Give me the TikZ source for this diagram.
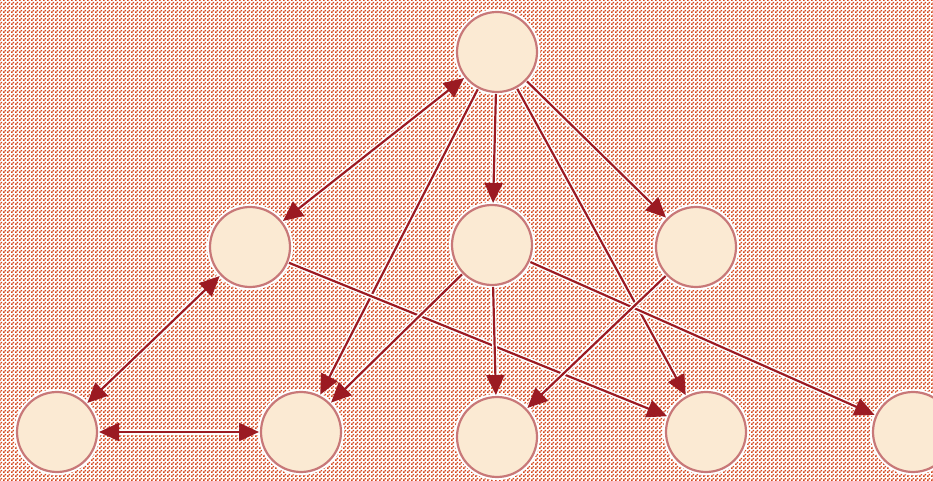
\documentclass[tikz,border=0pt]{standalone}
\usepackage{tikz}
\usetikzlibrary{arrows.meta,patterns.meta}

\definecolor{bgorange}{RGB}{212,70,28}
\definecolor{nodefill}{RGB}{251,234,211}
\definecolor{nodeline}{RGB}{200,120,120}
\definecolor{linkred}{RGB}{155,26,34}

\pgfdeclarepattern{
  name=checks, type=uncolored,
  bottom left={\pgfpointorigin}, top right={\pgfpoint{4bp}{4bp}},
  tile size={\pgfpoint{4bp}{4bp}},
  code={
    \pgfpathrectangle{\pgfpointorigin}{\pgfpoint{2bp}{2bp}}
    \pgfpathrectangle{\pgfpoint{2bp}{2bp}}{\pgfpoint{2bp}{2bp}}
    \pgfusepath{fill}
  }
}

\begin{document}
\begin{tikzpicture}[x=1bp,y=-1bp,->,>={Triangle[length=20bp,width=18bp]},
  main node/.style={circle,fill=nodefill,draw=nodeline,line width=2.2bp,
    minimum size=80bp,inner sep=0pt,outer sep=2bp,
    preaction={draw=white,line width=6bp}},
  every edge/.append style={draw=linkred,line width=2.2bp,
    preaction={draw=white,line width=5bp,-}}]

 % background
 \fill[white] (0,0) rectangle (933,481);
 \fill[pattern=checks,pattern color=bgorange] (0,0) rectangle (933,481);
 \useasboundingbox (0,0) rectangle (933,481);

 \node[main node] (1) at (497,52) {};
 \node[main node] (2) at (250,247) {};
 \node[main node] (3) at (492,245) {};
 \node[main node] (4) at (696,247) {};
 \node[main node] (5) at (57,432) {};
 \node[main node] (6) at (301,432) {};
 \node[main node] (7) at (497,437) {};
 \node[main node] (8) at (706,432) {};
 \node[main node] (9) at (913,432) {};

 \path
    (1)	edge [<->] (2)
    (1)	edge (6)
    (1)	edge (3)
    (1)	edge (4)
    (1)	edge (8)
    (2)	edge [<->] (5)
    (5)	edge [<->] (6)
    (2)	edge (8)
    (3)	edge (6)
    (3)	edge (7)
    (3)	edge (9)
    (4)	edge (7);

\end{tikzpicture}
\end{document}
